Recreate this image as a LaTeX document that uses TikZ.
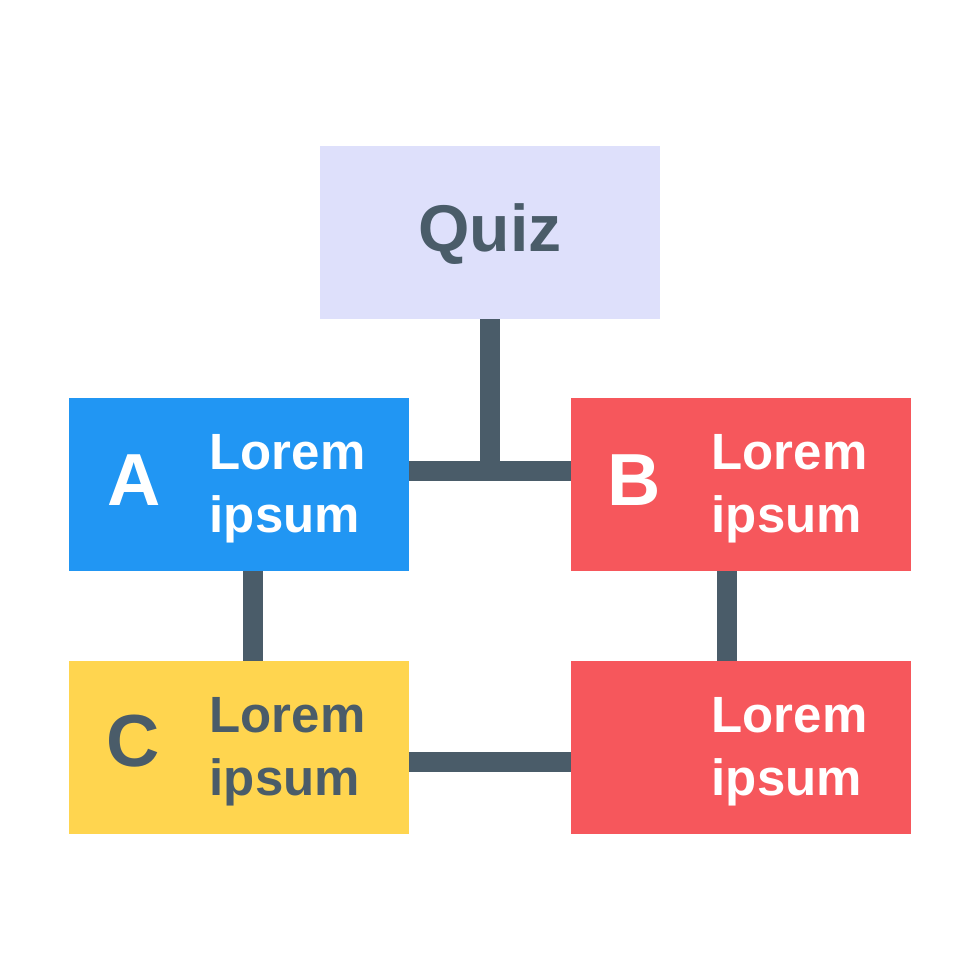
\documentclass[tikz,border=0pt]{standalone}
\usepackage{fontspec}
\setmainfont{Liberation Sans}
\definecolor{quizfill}{HTML}{DEE0FB}
\definecolor{bluefill}{HTML}{2196F3}
\definecolor{redfill}{HTML}{F6575C}
\definecolor{yellowfill}{HTML}{FFD54F}
\definecolor{slateline}{HTML}{4A5C69}
\tikzset{
    card/.style={minimum width=3.4cm, minimum height=1.73cm, inner sep=0pt, outer sep=0pt},
    letter/.style={font=\fontsize{21}{21}\selectfont\bfseries, anchor=base, inner sep=0pt},
    body/.style={font=\fontsize{14.5}{17.9}\selectfont\bfseries, align=left, anchor=west, inner sep=0pt},
    link/.style={draw=slateline, line width=0.2cm}
}
\begin{document}
\begin{tikzpicture}[x=1cm, y=1cm]
    \useasboundingbox[fill=white] (0, 0) rectangle (9.8, 9.8);

    \coordinate (joint) at (4.9, 5.09);
    \coordinate (leftdrop) at (2.53, 4);
    \coordinate (rightdrop) at (7.27, 4);
    \coordinate (bottomrun) at (4.9, 2.18);

    \node[card, fill=quizfill] (quiz) at (4.9, 7.475) {};
    \node[card, fill=bluefill] (a) at (2.39, 4.955) {};
    \node[card, fill=redfill] (b) at (7.41, 4.955) {};
    \node[card, fill=yellowfill] (c) at (2.39, 2.325) {};
    \node[card, fill=redfill] (d) at (7.41, 2.325) {};

    \draw[link] (quiz.south) -- (joint);
    \draw[link] (a.east |- joint) -- (b.west |- joint);
    \draw[link] (leftdrop |- a.south) -- (leftdrop |- c.north);
    \draw[link] (rightdrop |- b.south) -- (rightdrop |- d.north);
    \draw[link] (c.east |- bottomrun) -- (d.west |- bottomrun);

    \node[font=\fontsize{18.8}{18.8}\selectfont\bfseries, text=slateline, anchor=base, inner sep=0pt] (quiztext) at (4.9, 7.29) {Quiz};
    \node[letter, text=white] (atext) at (1.34, 4.75) {A};
    \node[letter, text=white] (btext) at (6.34, 4.75) {B};
    \node[letter, text=slateline] (ctext) at (1.33, 2.14) {C};

    \node[body, text=white] (alabel) at (2.09, 4.91) {Lorem\\ipsum};
    \node[body, text=white] (blabel) at (7.11, 4.91) {Lorem\\ipsum};
    \node[body, text=slateline] (clabel) at (2.09, 2.28) {Lorem\\ipsum};
    \node[body, text=white] (dlabel) at (7.11, 2.28) {Lorem\\ipsum};
\end{tikzpicture}
\end{document}
